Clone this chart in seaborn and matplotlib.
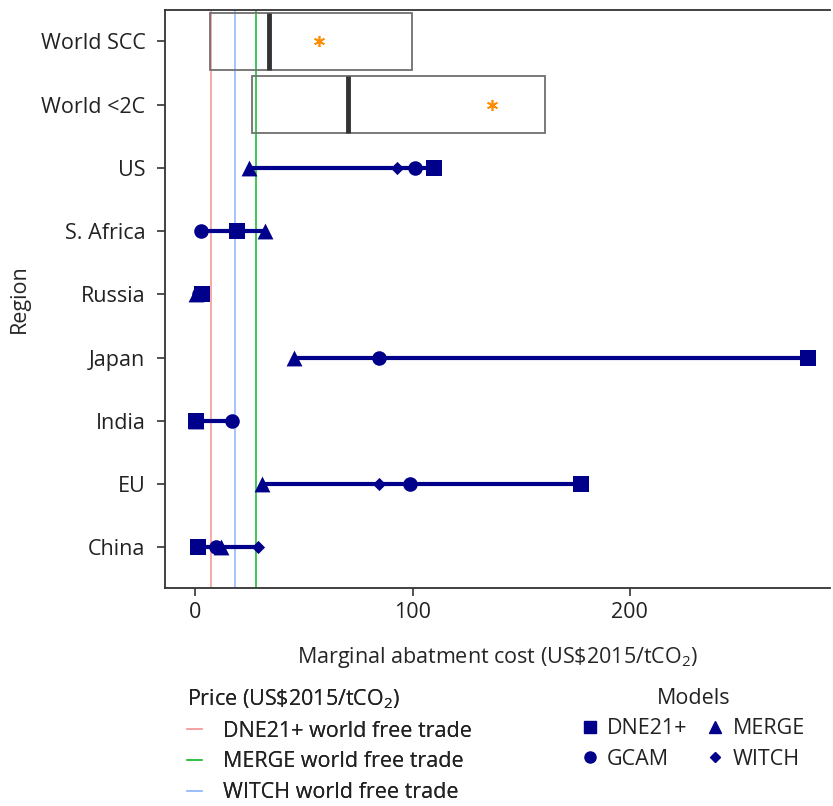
import numpy as np
import pandas as pd
import seaborn as sns
from matplotlib import pyplot as plt
from matplotlib.lines import Line2D

# 数据
regions = ['World SCC', 'World <2C', 'US', 'S. Africa', 'Russia', 'Japan', 'India', 'EU', 'China']
models = ['DNE21+', 'GCAM', 'MERGE', 'WITCH']

# 各区域各模型的边际减排成本 (NaN = 无)
dne21 = [np.nan, np.nan, 109.7, 19.1, 3.1, 282.0, 0.3, 177.4, 1.2]
gcam = [np.nan, np.nan, 101.0, 2.5, 1.5, 84.4, 16.9, 99.0, 9.6]
merge = [np.nan, np.nan, 24.9, 32.0, 0.1, 45.3, 0.1, 30.7, 12.0]
witch = [np.nan, np.nan, 92.8, np.nan, np.nan, np.nan, np.nan, 84.6, 29.0]

# 世界 SCC / <2C 范围 (低, 中位数, 高, 均值)
box_regions = ['World SCC', 'World <2C']
box_low = [6.8, 26.3]
box_median = [34.0, 70.2]
box_high = [99.8, 161.0]
box_mean = [56.8, 136.7]

# 世界自由贸易价格
price_labels = ['DNE21+ world free trade', 'MERGE world free trade', 'WITCH world free trade']
price_values = [7.0, 28.1, 18.4]
price_colors = ['#f4a3a3', '#33c24a', '#9dbfff']


def main():
    navy = '#00008b'
    fs = 15.5
    sns.set_style('ticks')
    plt.rcParams['font.family'] = ['Open Sans', 'DejaVu Sans']
    plt.rcParams['mathtext.default'] = 'regular'
    plt.rcParams['text.color'] = '#222222'

    df = pd.DataFrame({'region': regions, 'DNE21+': dne21, 'GCAM': gcam,
                       'MERGE': merge, 'WITCH': witch})
    long = df.melt(id_vars='region', var_name='model', value_name='cost').dropna()
    ypos = {r: i for i, r in enumerate(regions)}
    long['y'] = long['region'].map(ypos)

    fig = plt.figure(figsize=(8.33, 8.06), dpi=100)
    ax = fig.add_axes([0.198, 0.270, 0.798, 0.718])

    # 价格竖线
    for v, c in zip(price_values, price_colors):
        ax.axvline(v, color=c, lw=1.3, zorder=1)

    # 范围框
    for r, lo, med, hi, mn in zip(box_regions, box_low, box_median, box_high, box_mean):
        y = ypos[r]
        ax.barh(y, hi - lo, left=lo, height=0.9, fill=False, edgecolor='#707070', lw=1.3, zorder=2)
        ax.vlines(med, y - 0.45, y + 0.45, color='#333333', lw=3.5, zorder=3)
        ax.plot(mn, y, marker=(6, 2, 0), color='#ff8c00', ms=8, mew=1.2, zorder=4)

    # 区域范围线
    rng = long.groupby('y')['cost'].agg(['min', 'max'])
    ax.hlines(rng.index, rng['min'], rng['max'], color=navy, lw=3, zorder=3)

    markers = {'DNE21+': 's', 'GCAM': 'o', 'MERGE': '^', 'WITCH': 'D'}
    sizes = {'DNE21+': 130, 'GCAM': 110, 'MERGE': 130, 'WITCH': 45}
    for m in models:
        sub = long[long['model'] == m]
        sns.scatterplot(data=sub, x='cost', y='y', marker=markers[m], s=sizes[m],
                        color=navy, edgecolor=navy, linewidth=0, ax=ax, zorder=5, legend=False)

    ax.set_ylim(len(regions) - 1 + 0.65, -0.5)
    ax.set_xlim(-14, 292)
    ax.set_yticks(range(len(regions)))
    ax.set_yticklabels(regions)
    ax.set_xticks([0, 100, 200])
    ax.tick_params(axis='both', labelsize=fs, length=6, width=1.2, colors='#333333',
                   labelcolor='#222222')
    ax.tick_params(axis='y', pad=8)
    for s in ['left', 'bottom', 'top']:
        ax.spines[s].set_linewidth(1.3)
        ax.spines[s].set_color('#333333')
    ax.spines['right'].set_visible(False)
    ax.set_xlabel(r'Marginal abatment cost (US\$2015/tCO$_2$)', fontsize=fs, labelpad=16)
    ax.set_ylabel('Region', fontsize=fs)
    ax.yaxis.set_label_coords(-0.203, 0.5)

    # 图例
    price_handles = [Line2D([], [], color=c, lw=1.3) for c in price_colors]
    leg1 = fig.legend(price_handles, price_labels, title=r'Price (US\$2015/tCO$_2$)',
                      loc='upper left', bbox_to_anchor=(0.224, 0.147), frameon=False,
                      fontsize=fs, title_fontsize=fs, alignment='left',
                      handlelength=0.7, handletextpad=1.0, labelspacing=0.45,
                      borderpad=0, borderaxespad=0)
    model_handles = [Line2D([], [], ls='', marker=markers[m], color=navy,
                            ms=8 if m != 'WITCH' else 5) for m in models]
    fig.legend(model_handles, models, title='Models', ncol=2,
               loc='upper center', bbox_to_anchor=(0.833, 0.147), frameon=False,
               fontsize=fs, title_fontsize=fs, handlelength=0.6, handletextpad=0.5,
               columnspacing=1.0, labelspacing=0.45, borderpad=0, borderaxespad=0)
    fig.add_artist(leg1)

    fig.savefig('out.png', dpi=100)


if __name__ == '__main__':
    main()
